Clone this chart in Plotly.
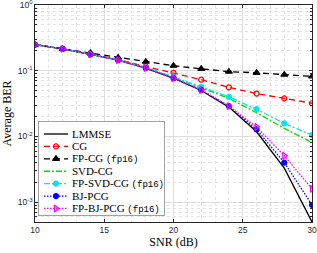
import plotly.graph_objects as go

snr = [10, 12, 14, 16, 18, 20, 22, 24, 26, 28, 30]
lmmse = [0.25, 0.215, 0.178, 0.145, 0.110, 0.077, 0.050, 0.028, 0.0118, 0.0033, 0.0005]
cg = [0.25, 0.215, 0.180, 0.148, 0.116, 0.093, 0.073, 0.056, 0.045, 0.038, 0.032]
fp_cg = [0.25, 0.215, 0.187, 0.158, 0.137, 0.119, 0.107, 0.097, 0.093, 0.087, 0.082]
svd_cg = [0.25, 0.215, 0.178, 0.146, 0.112, 0.080, 0.055, 0.038, 0.023, 0.0133, 0.0081]
fp_svd_cg = [0.25, 0.215, 0.178, 0.146, 0.112, 0.081, 0.057, 0.040, 0.026, 0.0158, 0.0105]
bj_pcg = [0.25, 0.215, 0.178, 0.145, 0.110, 0.077, 0.051, 0.029, 0.0128, 0.0040, 0.00091]
fp_bj_pcg = [0.25, 0.215, 0.178, 0.145, 0.110, 0.077, 0.051, 0.029, 0.0140, 0.0051, 0.0016]

names = ["LMMSE", "CG", "FP-CG (fp16)", "SVD-CG", "FP-SVD-CG (fp16)", "BJ-PCG", "FP-BJ-PCG (fp16)"]
series = [lmmse, cg, fp_cg, svd_cg, fp_svd_cg, bj_pcg, fp_bj_pcg]

y_tickvals = [1, 0.1, 0.01, 0.001]
y_ticktext = ["10<sup>0</sup>", "10<sup>-1</sup>", "10<sup>-2</sup>", "10<sup>-3</sup>"]
x_tickvals = [10, 15, 20, 25, 30]

SERIF = "Liberation Serif"
MONO = "Liberation Mono"

styles = [
    dict(color="#000000", dash="solid", symbol=None, msize=0),
    dict(color="#ff0000", dash="6px,4px", symbol="circle-open", msize=5),
    dict(color="#000000", dash="6px,4px", symbol="triangle-up", msize=6),
    dict(color="#00e000", dash="6px,2px,2px,2px", symbol=None, msize=0),
    dict(color="#00e5ee", dash="6px,2px,2px,2px", symbol="circle", msize=5),
    dict(color="#0000ff", dash="1.5px,1.5px", symbol="circle", msize=5),
    dict(color="#ff00ff", dash="1.5px,1.5px", symbol="triangle-right-open", msize=6),
]

fig = go.Figure()
for name, ys, st in zip(names, series, styles):
    mode = "lines+markers" if st["symbol"] else "lines"
    fig.add_trace(go.Scatter(
        x=snr, y=ys, name=name, mode=mode, showlegend=False,
        line=dict(color=st["color"], width=1.3, dash=st["dash"]),
        marker=dict(symbol=st["symbol"] or "circle", size=st["msize"], color=st["color"],
                    line=dict(color=st["color"], width=1.2)),
    ))

# manual legend in an inset subplot
for i, (name, st) in enumerate(zip(names, styles)):
    fig.add_trace(go.Scatter(
        x=[5, 29], y=[i, i], mode="lines", showlegend=False, xaxis="x2", yaxis="y2",
        line=dict(color=st["color"], width=1.3, dash=st["dash"]), hoverinfo="skip"))
    if st["symbol"]:
        fig.add_trace(go.Scatter(
            x=[17], y=[i], mode="markers", showlegend=False, xaxis="x2", yaxis="y2",
            marker=dict(symbol=st["symbol"], size=st["msize"], color=st["color"],
                        line=dict(color=st["color"], width=1.2)), hoverinfo="skip"))
    if "(fp16)" in name:
        base = name.replace(" (fp16)", "")
        txt = base + " <span style='font-family:%s;font-size:9px'>(fp16)</span>" % MONO
    else:
        txt = name
    fig.add_annotation(x=31, y=i, xref="x2", yref="y2", text=txt, showarrow=False,
                       xanchor="left", yanchor="middle",
                       font=dict(family=SERIF, size=11, color="#000000"))

axis_common = dict(showline=True, mirror="ticks", linecolor="#262626", linewidth=0.7,
                   ticks="inside", ticklen=3, tickcolor="#262626", automargin=False,
                   ticklabeloverflow="allow",
                   gridcolor="#dedede", gridwidth=0.6, zeroline=False,
                   tickfont=dict(family="Liberation Sans", size=8.5, color="#262626"))

fig.update_layout(
    width=317, height=253,
    margin=dict(l=35, r=5, t=5, b=31, pad=0),
    paper_bgcolor="white", plot_bgcolor="white",
    xaxis=dict(range=[10, 30], tickvals=x_tickvals, **axis_common,
               minor=dict(dtick=1, showgrid=True, gridcolor="#e4e4e4", griddash="dot",
                          gridwidth=0.6, ticks=""),
               title=dict(text="SNR (dB)", font=dict(family=SERIF, size=12, color="#000"), standoff=1)),
    yaxis=dict(type="log", range=[-3.30103, 0], tickvals=y_tickvals, ticktext=y_ticktext,
               **axis_common,
               minor=dict(dtick="D1", showgrid=True, gridcolor="#e4e4e4", griddash="dot",
                          gridwidth=0.6, ticks="inside", ticklen=2, tickcolor="#262626"),
               title=dict(text="Average BER", font=dict(family=SERIF, size=12, color="#000"), standoff=3)),
    xaxis2=dict(domain=[0.0144, 0.4657], range=[0, 125], anchor="y2", showline=True, mirror=True,
                linecolor="#a0a0a0", linewidth=0.8, showgrid=False, zeroline=False,
                showticklabels=False, ticks="", fixedrange=True),
    yaxis2=dict(domain=[0.032, 0.461], range=[6.53, -0.97], anchor="x2", showline=True, mirror=True,
                linecolor="#a0a0a0", linewidth=0.8, showgrid=False, zeroline=False,
                showticklabels=False, ticks="", fixedrange=True),
    showlegend=False,
)

fig.write_html("out.html", config={"displayModeBar": False},
               post_script="document.body.style.margin='0';document.body.style.padding='0';document.body.style.overflow='hidden';")
